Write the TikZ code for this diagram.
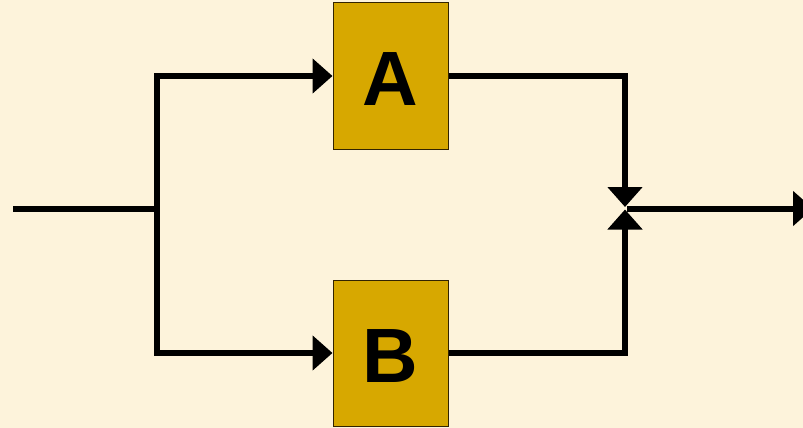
\documentclass[tikz,border=0pt]{standalone}
\usepackage{fontspec}
\setmainfont{Liberation Sans}
\usetikzlibrary{arrows.meta}
\definecolor{paper}{RGB}{253,243,219}
\definecolor{blockfill}{RGB}{215,168,0}
\definecolor{blockedge}{RGB}{50,35,0}
\tikzset{
  block/.style={draw=blockedge, line width=1pt, fill=blockfill, rectangle,
    minimum width=115pt, minimum height=146pt, inner sep=0pt},
  blocklabel/.style={font=\fontsize{77}{80}\selectfont\bfseries, inner sep=0pt},
  wire/.style={line width=6pt, line join=miter},
  flow/.style={wire, -{Triangle[length=20pt, width=34pt]}}
}
\begin{document}
\begin{tikzpicture}[x=1pt, y=-1pt]
  % canvas
  \fill[paper] (0,0) rectangle (803,428);
  \useasboundingbox (0,0) rectangle (803,428);
  \clip (0,0) rectangle (803,428);

  % the two parallel blocks
  \node[block] (A) at (390.5,76) {};
  \node[block] (B) at (390.5,353) {};
  \node[blocklabel] (Alabel) at ([yshift=-3pt]A.center) {A};
  \node[blocklabel] (Blabel) at ([yshift=-3pt]B.center) {B};

  % split point and merge points
  \coordinate (in)    at (13,209);
  \coordinate (split) at (157,209);
  \coordinate (mtop)  at (625,207);
  \coordinate (mbot)  at (625,209.5);
  \coordinate (mout)  at (627,208.5);
  \coordinate (out)   at (813,208.5);

  % input and branching
  \draw[wire] (in) -- (split);
  \draw[flow] (split) |- (A.west);
  \draw[flow] (split) |- (B.west);

  % outputs merging into the sum point
  \draw[flow] (A.east) -| (mtop);
  \draw[flow] (B.east) -| (mbot);
  \draw[flow] (mout) -- (out);
\end{tikzpicture}
\end{document}
